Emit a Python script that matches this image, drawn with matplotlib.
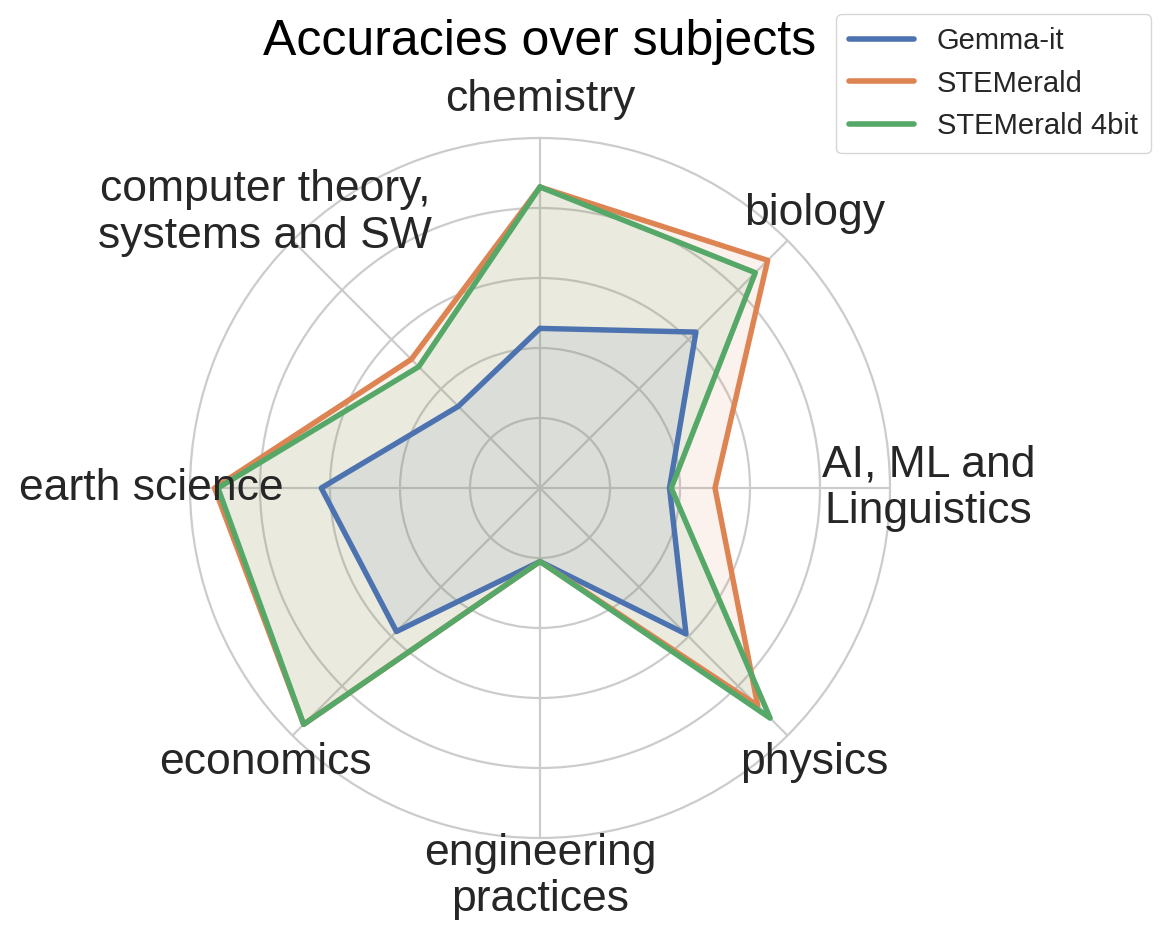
import numpy as np
import matplotlib
matplotlib.use("Agg")
import matplotlib.pyplot as plt
import seaborn as sns

sns.set_theme(style="whitegrid")
plt.rcParams['font.family'] = ['Liberation Sans', 'DejaVu Sans']

categories = ["chemistry", "biology", "AI, ML and\nLinguistics", "physics",
              "engineering\npractices", "economics", "earth science",
              "computer theory,\nsystems and SW"]
gemma_it = [0.456, 0.63, 0.37, 0.59, 0.21, 0.58, 0.625, 0.33]
stemerald = [0.86, 0.92, 0.50, 0.88, 0.21, 0.955, 0.93, 0.52]
stemerald_4bit = [0.86, 0.87, 0.375, 0.93, 0.21, 0.955, 0.92, 0.49]
series_names = ["Gemma-it", "STEMerald", "STEMerald 4bit"]
series_values = [gemma_it, stemerald, stemerald_4bit]
colors = ["#4C72B0", "#DD8452", "#55A868"]

fig = plt.figure(figsize=(11.66, 9.38), dpi=100)
ax = fig.add_axes([190/1166, 1 - 838/938, 700/1166, 700/938], projection='polar')
ax.set_theta_offset(np.pi / 2)
ax.set_theta_direction(-1)

n = len(categories)
angles = np.linspace(0, 2*np.pi, n, endpoint=False)
closed = np.concatenate([angles, angles[:1]])

lines = []
for name, vals, c in zip(series_names, series_values, colors):
    v = np.concatenate([vals, vals[:1]])
    ln, = ax.plot(closed, v, color=c, linewidth=3.9, label=name, zorder=3)
    ax.fill(closed, v, color=c, alpha=0.1, zorder=2)
    lines.append(ln)

ax.set_ylim(0, 1.0)
ax.set_yticks([0.2, 0.4, 0.6, 0.8])
ax.set_yticklabels([])
ax.set_xticks(angles)
ax.set_xticklabels([])
ax.grid(True, color='#cccccc', linewidth=1.6)
ax.spines['polar'].set_color('#cccccc')
ax.spines['polar'].set_linewidth(1.6)
ax.set_facecolor('white')

for ang, lab in zip(angles, categories):
    ax.text(ang, 1.11, lab, ha='center', va='center', fontsize=32,
            color='#262626', linespacing=1.18, clip_on=False)

fig.text(540/1166, 1 - 42/938, "Accuracies over subjects", ha='center', va='center',
         fontsize=36, color='black')

leg = fig.legend(handles=lines, loc='upper right', bbox_to_anchor=(1151/1166, 1 - 14/938),
                 fontsize=21, frameon=True, handlelength=2.2, borderpad=0.45,
                 labelspacing=0.5, borderaxespad=0)
leg.get_frame().set_edgecolor('#cccccc')
for l in leg.get_lines():
    l.set_linewidth(4)

fig.savefig("out.png", dpi=100)
